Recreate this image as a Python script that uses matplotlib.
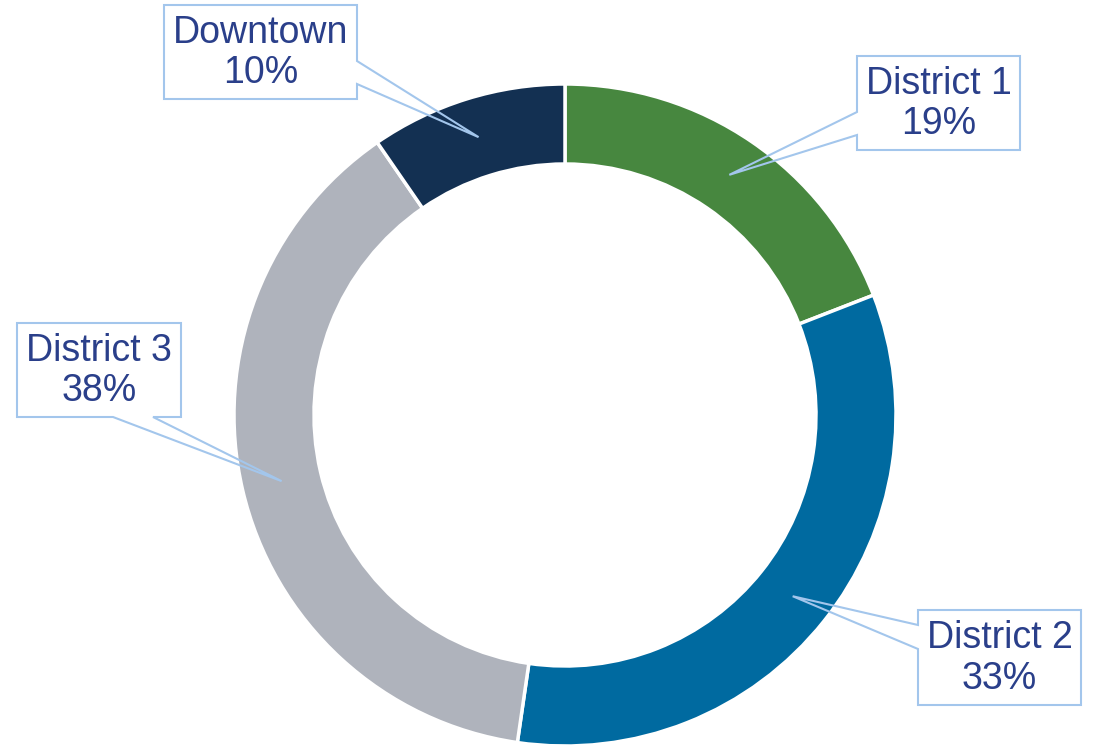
import numpy as np
import matplotlib.pyplot as plt
from matplotlib.patches import Polygon

names = ['District 1', 'District 2', 'District 3', 'Downtown']
values = [19.1, 33.2, 38.1, 9.6]
colors = ['#47873F', '#006AA0', '#AFB3BC', '#133052']

W, H = 1097, 747
cx, cy = 565, 415          # ring centre, pixel coords (y down)
R, ring = 331, 80

# callout boxes: x0, y0, x1, y1, side where pointer leaves, gap start, gap end
boxes = {
    'District 1': (857, 56, 1020, 150, 'left', 112, 135),
    'District 2': (918, 610, 1081, 705, 'left', 625, 649),
    'District 3': (17, 323, 181, 417, 'bottom', 113, 153),
    'Downtown': (164, 5, 357, 99, 'right', 61, 84),
}

text_color = '#2A3F8A'
line_color = '#A3C6EC'


def fy(y):
    return H - y


fig = plt.figure(figsize=(W / 100, H / 100), dpi=100)
ax = fig.add_axes([0, 0, 1, 1])

wedges, _ = ax.pie(values, colors=colors, startangle=90, counterclock=False,
                   radius=R, center=(cx, fy(cy)),
                   wedgeprops=dict(width=ring, edgecolor='white', linewidth=2.5))
ax.set_xlim(0, W)
ax.set_ylim(0, H)
ax.set_aspect('equal')
ax.axis('off')

for w, name, v in zip(wedges, names, values):
    mid = np.deg2rad((w.theta1 + w.theta2) / 2)
    rm = R - ring / 2
    tx = cx + rm * np.cos(mid)
    ty = fy(cy) + rm * np.sin(mid)
    x0, y0, x1, y1, side, a, b = boxes[name]
    tip = (tx, fy(ty))
    pts = [(x0, y0), (x1, y0)]
    if side == 'right':
        pts += [(x1, a), tip, (x1, b)]
    pts += [(x1, y1)]
    if side == 'bottom':
        pts += [(b, y1), tip, (a, y1)]
    pts += [(x0, y1)]
    if side == 'left':
        pts += [(x0, b), tip, (x0, a)]
    pts = [(p[0], fy(p[1])) for p in pts]
    ax.add_patch(Polygon(pts, closed=True, facecolor='none',
                         edgecolor=line_color, linewidth=1.5, zorder=5))
    ax.text((x0 + x1) / 2, fy((y0 + y1) / 2 + 1), f'{name}\n{round(v):d}%',
            ha='center', va='center', fontsize=27, color=text_color,
            family='Liberation Sans', linespacing=1.15, zorder=6)

fig.savefig('out.png', dpi=100)
